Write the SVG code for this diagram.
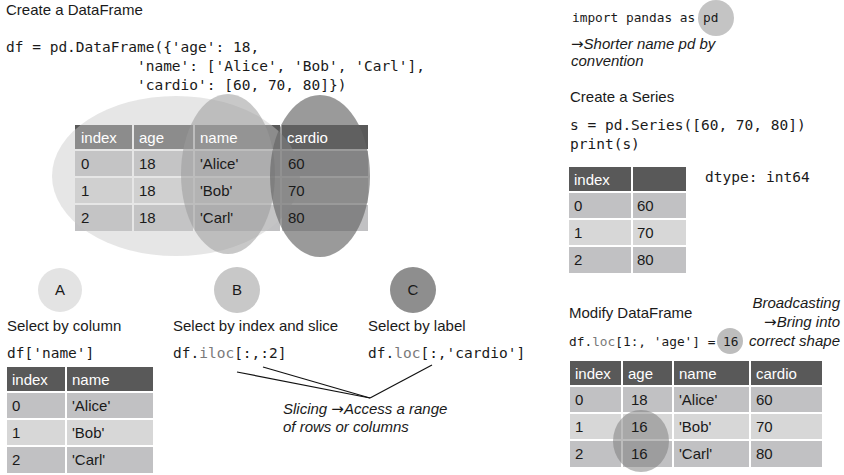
<svg xmlns="http://www.w3.org/2000/svg" width="844" height="475" viewBox="0 0 844 475">
<style>
.t{font-family:"Liberation Sans",Arial,sans-serif;font-size:15px;fill:#1a1a1a}
.ti{font-family:"Liberation Sans",Arial,sans-serif;font-size:15px;font-style:italic;fill:#1a1a1a}
.ar{font-family:"DejaVu Sans",sans-serif;font-style:normal;font-size:15px}
.h{font-family:"Liberation Sans",Arial,sans-serif;font-size:15px;fill:#ffffff}
.c{font-family:"DejaVu Sans Mono","Liberation Mono",monospace;font-size:14.5px;fill:#1a1a1a}
.cs{font-family:"DejaVu Sans Mono","Liberation Mono",monospace;font-size:12.8px;fill:#1a1a1a}
.g{fill:#7a7a7a}
.hd{fill:#595959}
.r0{fill:#c1c1c3}
.r1{fill:#d7d7d7}
.sep{stroke:#ffffff;stroke-width:2;fill:none}
.ln{stroke:#111;stroke-width:1.2;fill:none}
</style>

<!-- Top-left code -->
<g id="title-df">
<text class="t" x="6" y="15">Create a DataFrame</text>
<text class="c" x="6" y="52">df = pd.DataFrame({'age': 18,</text>
<text class="c" x="6" y="71" xml:space="preserve">               'name': ['Alice', 'Bob', 'Carl'],</text>
<text class="c" x="6" y="90" xml:space="preserve">               'cardio': [60, 70, 80]})</text>
</g>

<!-- Main table with overlays -->
<g id="main-table">
<rect class="hd" x="75" y="125" width="293" height="25"/>
<rect class="r0" x="75" y="150" width="293" height="27"/>
<rect class="r1" x="75" y="177" width="293" height="27"/>
<rect class="r0" x="75" y="204" width="293" height="27"/>
<path class="sep" d="M133 125V231M194 125V231M281 125V231M75 150H368M75 177H368M75 204H368"/>
</g>
<g id="ellipse-A"><ellipse cx="176" cy="176" rx="124" ry="80" fill="#c9c9c9" opacity="0.46"/></g>
<g id="ellipse-B"><ellipse cx="228" cy="174" rx="47" ry="80" fill="#9a9a9a" opacity="0.55"/></g>
<g id="ellipse-C"><ellipse cx="320" cy="176" rx="50" ry="81" fill="#646464" opacity="0.65"/></g>
<g id="main-table-text">
<text class="h" x="81" y="143">index</text>
<text class="h" x="139" y="143">age</text>
<text class="h" x="200" y="143">name</text>
<text class="h" x="287" y="143">cardio</text>
<text class="t" x="81" y="169">0</text><text class="t" x="139" y="169">18</text><text class="t" x="200" y="169">'Alice'</text><text class="t" x="288" y="169">60</text>
<text class="t" x="81" y="196">1</text><text class="t" x="139" y="196">18</text><text class="t" x="200" y="196">'Bob'</text><text class="t" x="288" y="196">70</text>
<text class="t" x="81" y="223">2</text><text class="t" x="139" y="223">18</text><text class="t" x="200" y="223">'Carl'</text><text class="t" x="288" y="223">80</text>
</g>

<!-- A / B / C -->
<g id="node-A">
<circle cx="60" cy="290" r="22" fill="#e3e3e3"/>
<text class="t" x="60" y="295" text-anchor="middle">A</text>
<text class="t" x="7" y="331">Select by column</text>
<text class="c" x="7" y="358">df['name']</text>
</g>
<g id="node-B">
<circle cx="237" cy="290" r="23" fill="#c8c8c8"/>
<text class="t" x="237" y="295" text-anchor="middle">B</text>
<text class="t" x="173" y="331">Select by index and slice</text>
<text class="c" x="173" y="358">df.<tspan class="g">iloc</tspan>[:,:2]</text>
</g>
<g id="node-C">
<circle cx="413" cy="290" r="23" fill="#8e8e8e"/>
<text class="t" x="413" y="295" text-anchor="middle">C</text>
<text class="t" x="368" y="331">Select by label</text>
<text class="c" x="368" y="358">df.<tspan class="g">loc</tspan>[:,'cardio']</text>
</g>

<!-- Bottom-left table -->
<g id="col-table">
<rect class="hd" x="7" y="367" width="146" height="25"/>
<rect class="r0" x="7" y="392" width="146" height="27"/>
<rect class="r1" x="7" y="419" width="146" height="27"/>
<rect class="r0" x="7" y="446" width="146" height="27"/>
<path class="sep" d="M66 367V473M7 392H153M7 419H153M7 446H153"/>
<text class="h" x="12" y="385">index</text><text class="h" x="72" y="385">name</text>
<text class="t" x="12" y="411">0</text><text class="t" x="72" y="411">'Alice'</text>
<text class="t" x="12" y="438">1</text><text class="t" x="72" y="438">'Bob'</text>
<text class="t" x="12" y="465">2</text><text class="t" x="72" y="465">'Carl'</text>
</g>

<!-- Connectors -->
<g id="connectors">
<path class="ln" d="M237 372L370 398"/>
<path class="ln" d="M263 367L370 398"/>
<path class="ln" d="M432 365L370 398"/>
</g>
<g id="slicing-note">
<text class="ti" x="283" y="414">Slicing <tspan class="ar">→</tspan>Access a range</text>
<text class="ti" x="283" y="432">of rows or columns</text>
</g>

<!-- Right side -->
<g id="import">
<circle cx="716" cy="18" r="18" fill="#c4c4c4"/>
<text class="cs" x="572" y="22">import pandas as pd</text>
<text class="ti" x="571" y="49"><tspan class="ar">→</tspan>Shorter name pd by</text>
<text class="ti" x="571" y="66">convention</text>
</g>
<g id="series">
<text class="t" x="570" y="102">Create a Series</text>
<text class="c" x="570" y="130">s = pd.Series([60, 70, 80])</text>
<text class="c" x="570" y="149">print(s)</text>
<rect class="hd" x="569" y="167" width="117" height="25"/>
<rect class="r0" x="569" y="192" width="117" height="27"/>
<rect class="r1" x="569" y="219" width="117" height="27"/>
<rect class="r0" x="569" y="246" width="117" height="27"/>
<path class="sep" d="M632 167V273M569 192H686M569 219H686M569 246H686"/>
<text class="h" x="574" y="185">index</text>
<text class="t" x="574" y="211">0</text><text class="t" x="637" y="211">60</text>
<text class="t" x="574" y="238">1</text><text class="t" x="637" y="238">70</text>
<text class="t" x="574" y="265">2</text><text class="t" x="637" y="265">80</text>
<text class="c" x="705" y="182">dtype: int64</text>
</g>
<g id="modify">
<text class="t" x="569" y="318">Modify DataFrame</text>
<circle cx="730" cy="341" r="13" fill="#bdbdbd"/>
<text class="cs" x="569" y="346">df.<tspan class="g">loc</tspan>[1:, 'age'] = 16</text>
<text class="ti" x="840" y="308" text-anchor="end">Broadcasting</text>
<text class="ti" x="840" y="327" text-anchor="end"><tspan class="ar">→</tspan>Bring into</text>
<text class="ti" x="840" y="346" text-anchor="end">correct shape</text>
<rect class="hd" x="570" y="361" width="252" height="25"/>
<rect class="r0" x="570" y="386" width="252" height="27"/>
<rect class="r1" x="570" y="413" width="252" height="27"/>
<rect class="r0" x="570" y="440" width="252" height="27"/>
<path class="sep" d="M622 361V467M673 361V467M750 361V467M570 386H822M570 413H822M570 440H822"/>
<ellipse cx="641" cy="441" rx="28" ry="31" fill="#7a7a7a" opacity="0.5"/>
<text class="h" x="575" y="379">index</text><text class="h" x="628" y="379">age</text><text class="h" x="679" y="379">name</text><text class="h" x="756" y="379">cardio</text>
<text class="t" x="575" y="405">0</text><text class="t" x="631" y="405">18</text><text class="t" x="679" y="405">'Alice'</text><text class="t" x="756" y="405">60</text>
<text class="t" x="575" y="432">1</text><text class="t" x="631" y="432">16</text><text class="t" x="679" y="432">'Bob'</text><text class="t" x="756" y="432">70</text>
<text class="t" x="575" y="459">2</text><text class="t" x="631" y="459">16</text><text class="t" x="679" y="459">'Carl'</text><text class="t" x="756" y="459">80</text>
</g>
</svg>
